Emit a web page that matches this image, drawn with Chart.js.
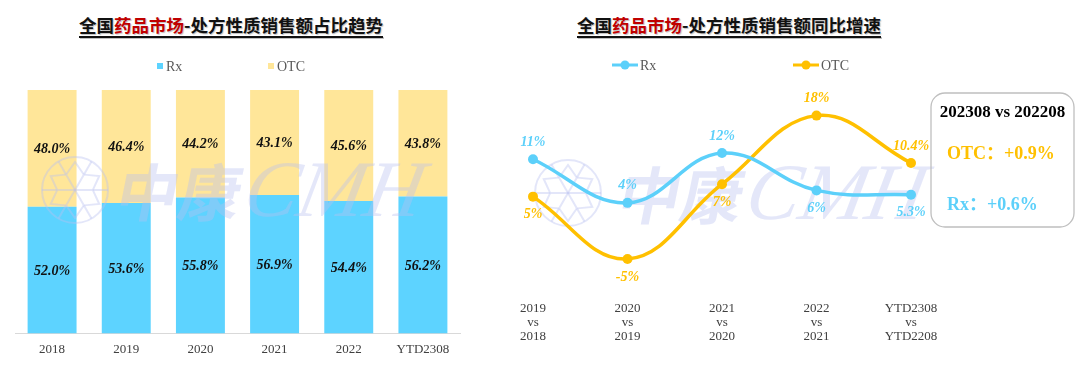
<!DOCTYPE html>
<html><head><meta charset="utf-8">
<script src="https://cdn.jsdelivr.net/npm/chart.js@4"></script>
<style>
body{margin:0;background:#fff;}
#wrap{position:relative;width:1080px;height:379px;overflow:hidden;}
.title{position:absolute;top:13px;font:bold 17.5px "Noto Sans CJK SC";color:#111;white-space:nowrap;line-height:24px;
 text-decoration:underline;text-decoration-thickness:2px;text-underline-offset:4px;text-shadow:1px 1px 1px rgba(0,0,0,0.25);}
.title .red{color:#c00000;}
#c1{position:absolute;left:0;top:0;width:480px;height:379px;}
#c2{position:absolute;left:480px;top:0;width:600px;height:379px;}
</style></head>
<body><div id="wrap">
<div class="title" style="left:79px">全国<span class="red">药品市场</span>-处方性质销售额占比趋势</div>
<div class="title" style="left:577px">全国<span class="red">药品市场</span>-处方性质销售额同比增速</div>
<div id="c1"><canvas id="bar"></canvas></div>
<div id="c2"><canvas id="line"></canvas></div>
</div>
<script>
const shareCategories = ['2018','2019','2020','2021','2022','YTD2308'];
const rxShare  = [52.0, 53.6, 55.8, 56.9, 54.4, 56.2];
const otcShare = [48.0, 46.4, 44.2, 43.1, 45.6, 43.8];

const growthCategories = [['2019','vs','2018'],['2020','vs','2019'],['2021','vs','2020'],['2022','vs','2021'],['YTD2308','vs','YTD2208']];
const rxGrowth  = [11, 4, 12, 6, 5.3];
const otcGrowth = [5, -5, 7, 18, 10.4];
const rxLabelPos  = ['above','above','above','below','below'];
const otcLabelPos = ['below','below','below','above','above'];

const boxTitle = '202308 vs 202208';
const boxOTC = 'OTC：+0.9%';
const boxRx = 'Rx：+0.6%';

const RX_BAR = '#5DD3FF', OTC_BAR = '#FFE699';
const RX_LINE = '#5CD0FA', OTC_LINE = '#FFC000';
const SERIF = '"Liberation Serif","Times New Roman",serif';

function drawWatermark(ctx, cx, cy, tx) {
  ctx.save();
  ctx.strokeStyle = 'rgba(185,192,240,0.4)';
  ctx.lineWidth = 2;
  ctx.beginPath(); ctx.arc(cx, cy, 33, 0, Math.PI*2); ctx.stroke();
  for (let i = 0; i < 6; i++) {
    const a = i*Math.PI/3;
    ctx.beginPath(); ctx.moveTo(cx, cy); ctx.lineTo(cx+Math.cos(a)*33, cy+Math.sin(a)*33); ctx.stroke();
    const b = a + Math.PI/6;
    ctx.beginPath();
    ctx.moveTo(cx+Math.cos(b-0.5)*18, cy+Math.sin(b-0.5)*18);
    ctx.lineTo(cx+Math.cos(b)*28, cy+Math.sin(b)*28);
    ctx.lineTo(cx+Math.cos(b+0.5)*18, cy+Math.sin(b+0.5)*18);
    ctx.stroke();
  }
  ctx.fillStyle = 'rgba(185,192,240,0.38)';
  ctx.textBaseline = 'middle';
  ctx.setTransform(1,0,-0.2,1,0,0);
  ctx.font = 'bold 62px "Noto Sans CJK SC"';
  ctx.fillText('中康', tx + cy*0.2, cy + 2);
  ctx.font = 'italic 80px ' + SERIF;
  ctx.fillText('CMH', tx + 128 + cy*0.2, cy + 5);
  ctx.restore();
}

const barPlugin = {
  id: 'barExtras',
  afterDatasetsDraw(chart) {
    const ctx = chart.ctx;
    ctx.save();
    ctx.font = 'bold italic 14px ' + SERIF;
    ctx.fillStyle = '#111';
    ctx.textAlign = 'center';
    ctx.textBaseline = 'middle';
    chart.data.datasets.forEach((ds, di) => {
      chart.getDatasetMeta(di).data.forEach((el, i) => {
        const p = el.getProps(['x','y','base'], true);
        ctx.fillText(ds.data[i].toFixed(1) + '%', p.x, (p.y + p.base)/2 + 1);
      });
    });
    // legend
    ctx.textAlign = 'left';
    ctx.font = '14px ' + SERIF;
    ctx.fillStyle = RX_BAR; ctx.fillRect(157, 63, 6, 6);
    ctx.fillStyle = OTC_BAR; ctx.fillRect(268, 63, 6, 6);
    ctx.fillStyle = '#595959';
    ctx.fillText('Rx', 166, 67);
    ctx.fillText('OTC', 277, 67);
    ctx.restore();
    drawWatermark(ctx, 75, 190, 118);
  }
};

new Chart(document.getElementById('bar'), {
  type: 'bar',
  data: {
    labels: shareCategories,
    datasets: [
      {label: 'Rx', data: rxShare, backgroundColor: RX_BAR, categoryPercentage: 1, barPercentage: 0.66},
      {label: 'OTC', data: otcShare, backgroundColor: OTC_BAR, categoryPercentage: 1, barPercentage: 0.66}
    ]
  },
  options: {
    responsive: true, maintainAspectRatio: false, animation: false,
    layout: {padding: {top: 90, left: 15, right: 20, bottom: 14}},
    plugins: {legend: {display: false}, tooltip: {enabled: false}},
    scales: {
      x: {stacked: true, grid: {display: false, drawTicks: false},
          border: {display: true, color: '#d9d9d9', width: 1},
          ticks: {padding: 8, color: '#404040', font: {family: SERIF, size: 13}}},
      y: {stacked: true, display: false, min: 0, max: 100}
    }
  },
  plugins: [barPlugin]
});

const linePlugin = {
  id: 'lineExtras',
  beforeDatasetsDraw(chart) {
    drawWatermark(chart.ctx, 568-480, 193, 620-480);
  },
  afterDatasetsDraw(chart) {
    const ctx = chart.ctx;
    ctx.save();
    ctx.font = 'bold italic 14px ' + SERIF;
    ctx.textAlign = 'center';
    ctx.textBaseline = 'middle';
    const posSets = [rxLabelPos, otcLabelPos];
    chart.data.datasets.forEach((ds, di) => {
      ctx.fillStyle = ds.borderColor;
      chart.getDatasetMeta(di).data.forEach((el, i) => {
        const v = ds.data[i];
        const txt = (Number.isInteger(v) ? v : v.toFixed(1)) + '%';
        const dy = posSets[di][i] === 'above' ? -17 : 18;
        ctx.fillText(txt, el.x, el.y + dy);
      });
    });
    // legend
    const lg = [[RX_LINE, 612-480, 'Rx'], [OTC_LINE, 793-480, 'OTC']];
    lg.forEach(([c, x, t]) => {
      ctx.strokeStyle = c; ctx.lineWidth = 3;
      ctx.beginPath(); ctx.moveTo(x, 65); ctx.lineTo(x+26, 65); ctx.stroke();
      ctx.fillStyle = c; ctx.beginPath(); ctx.arc(x+13, 65, 4.5, 0, Math.PI*2); ctx.fill();
      ctx.fillStyle = '#595959'; ctx.textAlign = 'left'; ctx.font = '14px ' + SERIF;
      ctx.fillText(t, x+28, 66);
    });
    // box
    const bx = 931-480, by = 93, bw = 143, bh = 134;
    ctx.strokeStyle = '#bfbfbf'; ctx.lineWidth = 1.3;
    ctx.beginPath(); ctx.roundRect(bx, by, bw, bh, 14); ctx.stroke();
    ctx.fillStyle = '#000'; ctx.textAlign = 'center';
    ctx.font = 'bold 17px ' + SERIF;
    ctx.fillText(boxTitle, bx + bw/2, 113);
    ctx.textAlign = 'left';
    ctx.font = 'bold 18px ' + SERIF + ',"Noto Sans CJK SC"';
    ctx.fillStyle = OTC_LINE; ctx.fillText(boxOTC, 947-480, 154);
    ctx.fillStyle = RX_LINE; ctx.fillText(boxRx, 947-480, 205);
    ctx.restore();
  }
};

new Chart(document.getElementById('line'), {
  type: 'line',
  data: {
    labels: growthCategories,
    datasets: [
      {label: 'Rx', data: rxGrowth, borderColor: RX_LINE, backgroundColor: RX_LINE, borderWidth: 3.5, tension: 0.4, pointRadius: 5, pointBackgroundColor: RX_LINE, pointBorderWidth: 0},
      {label: 'OTC', data: otcGrowth, borderColor: OTC_LINE, backgroundColor: OTC_LINE, borderWidth: 3.5, tension: 0.4, pointRadius: 5, pointBackgroundColor: OTC_LINE, pointBorderWidth: 0}
    ]
  },
  options: {
    responsive: true, maintainAspectRatio: false, animation: false,
    layout: {padding: {top: 72, left: 53, right: 169, bottom: 24}},
    plugins: {legend: {display: false}, tooltip: {enabled: false}},
    scales: {
      x: {grid: {display: false, drawTicks: false}, border: {display: false},
          ticks: {padding: 11, color: '#404040', maxRotation: 0, autoSkip: false, font: {family: SERIF, size: 13, lineHeight: 1.1}}},
      y: {display: false, min: -10, max: 25}
    }
  },
  plugins: [linePlugin]
});
</script>
</body></html>
